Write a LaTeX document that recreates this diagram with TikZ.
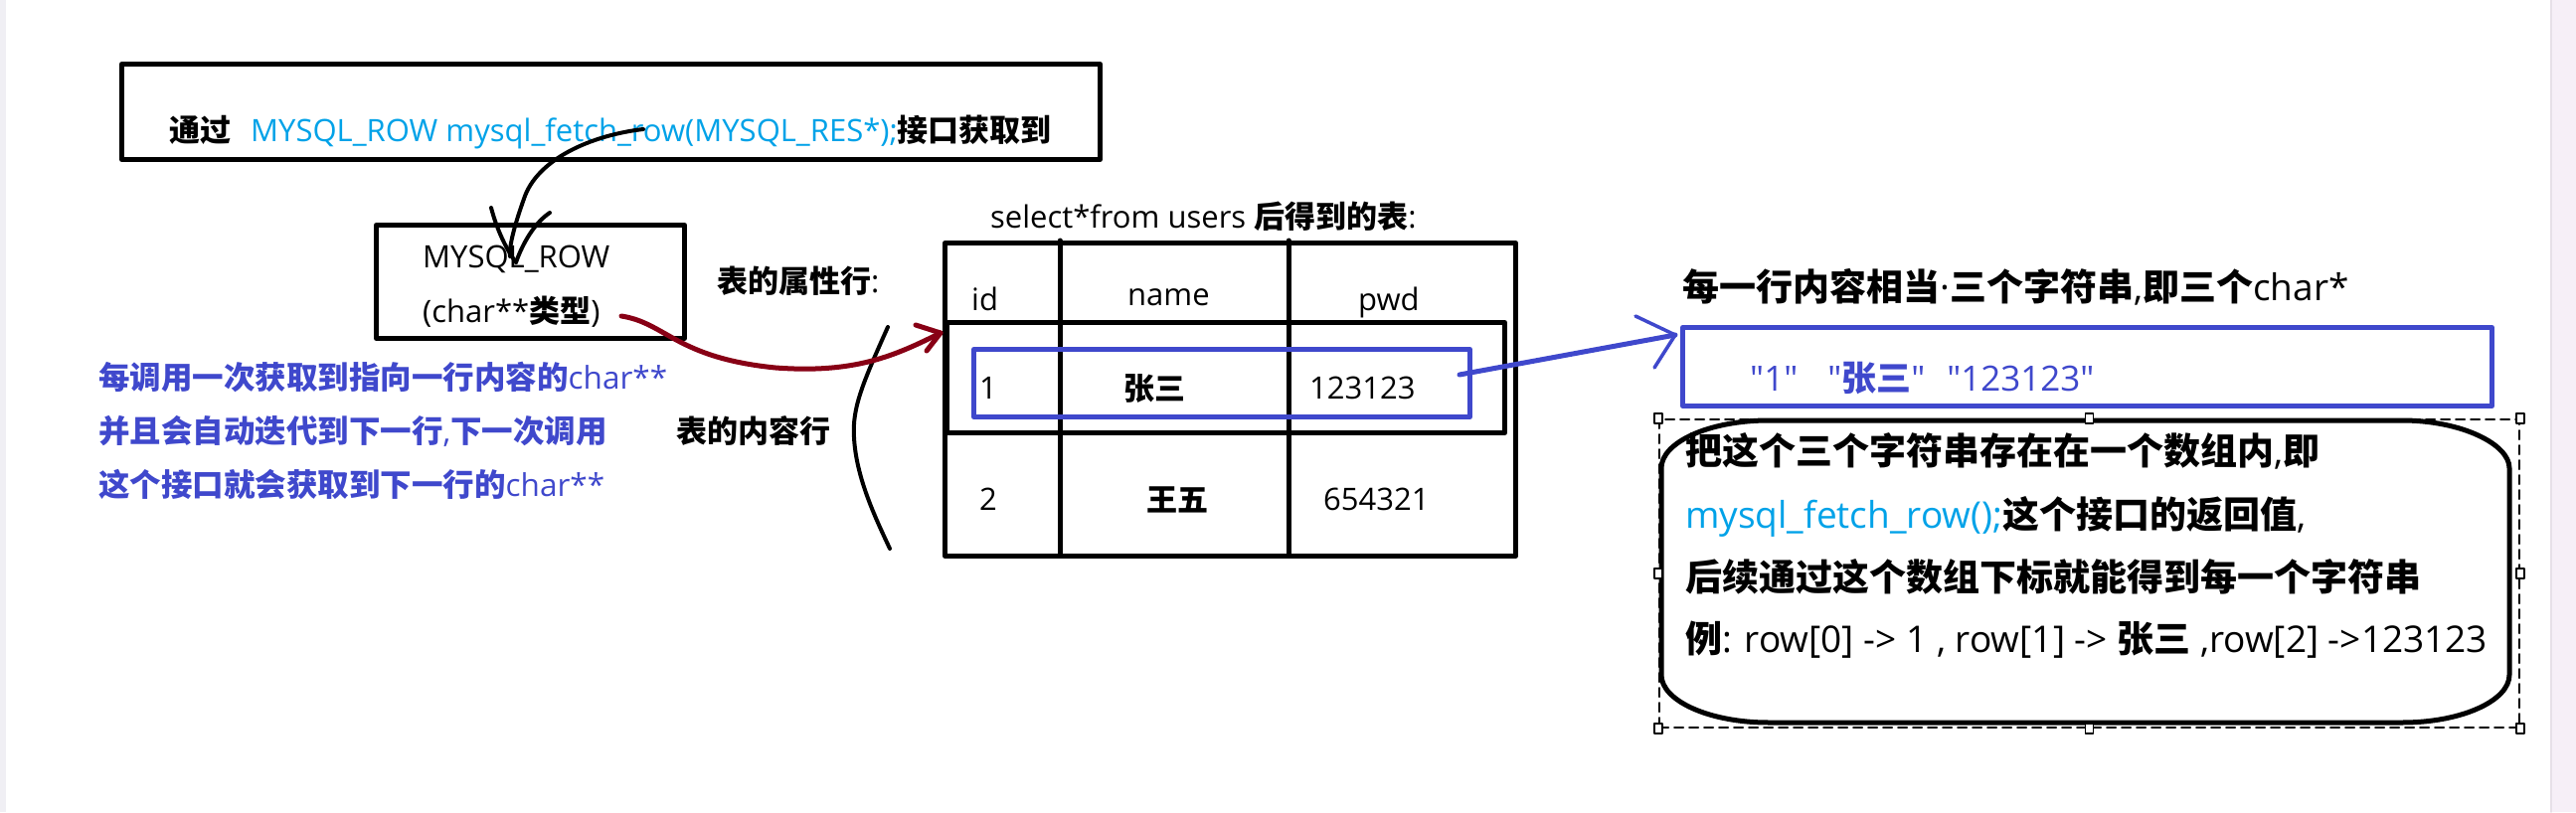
\documentclass[tikz,border=0pt]{standalone}
\usepackage{fontspec}
\setmainfont{Open Sans}
\newfontfamily\zhfont{Noto Sans CJK SC}
\newfontfamily\strfont{Open Sans}[Ligatures=TeXOff]
\newcommand\zh[1]{{\zhfont\bfseries #1}}
\definecolor{pblue}{HTML}{3F48CC}
\definecolor{pcyan}{HTML}{00A2E8}
\definecolor{pred}{HTML}{880015}
\definecolor{stripL}{HTML}{F0EFF4}
\definecolor{stripR}{HTML}{F6EFF7}
\definecolor{stripRline}{HTML}{E6E0E8}
\begin{document}
\begin{tikzpicture}[x=1pt,y=-1pt,
  line cap=round, line join=round,
  txt/.style={inner sep=0pt, anchor=base west, font=\fontsize{31}{37}\selectfont},
  note/.style={txt, text=pblue, font=\fontsize{31.5}{38}\selectfont},
  big/.style={txt, font=\fontsize{37}{44}\selectfont},
  box/.style={draw, line width=5pt, inner sep=0pt, anchor=north west},
  handle/.style={draw, fill=white, line width=1.5pt, minimum width=8pt, minimum height=10pt, inner sep=0pt},
  hand/.style={line width=4pt},
]
\useasboundingbox (0,0) rectangle (2591,817);
\fill[white] (0,0) rectangle (2591,817);
\fill[stripL] (0,0) rectangle (6,817);
\fill[stripR] (2566,0) rectangle (2591,817);
\draw[stripRline, line width=1.5pt] (2566,0) -- (2566,817);

% top box
\node[box, minimum width=984pt, minimum height=96pt] (topbox) at (120,62) {};
\node[txt] (toptxt) at (170,142) {\zh{通过}\hspace{20pt}\textcolor{pcyan}{MYSQL\_ROW mysql\_fetch\_row(MYSQL\_RES*);}\zh{接口获取到}};

% MYSQL_ROW box
\node[box, minimum width=310pt, minimum height=114pt] (rowbox) at (376,224) {};
\node[txt] (rowname) at (425,269) {MYSQL\_ROW};
\node[txt] (rowtype) at (425,324) {(char**\zh{类型})};

% black hand-drawn arrow
\coordinate (kstart) at (647,130);
\coordinate (ktip) at (519,264);
\draw[hand] (kstart) .. controls (595,136) and (540,160) .. (527,200) .. controls (517,228) and (512,248) .. (513,258);
\draw[hand] (494,209) .. controls (500,232) and (510,252) .. (ktip);
\draw[hand] (553,214) .. controls (538,224) and (526,244) .. (ktip);

% blue notes
\node[note] (note1) at (99,391) {\zh{每调用一次获取到指向一行内容的}char**};
\node[note] (note2) at (99,445) {\zh{并且会自动迭代到下一行},\zh{下一次调用}};
\node[note] (note3) at (99,499) {\zh{这个接口就会获取到下一行的}char**};

% labels
\node[txt] (attr) at (721,294) {\zh{表的属性行}:};
\node[txt] (cont) at (680,445) {\zh{表的内容行}};

% brace-like curve
\draw[hand] (893,329) .. controls (868,385) and (857,410) .. (859,440) .. controls (861,480) and (880,520) .. (895,552);

% table
\node[txt] (tcap) at (996,229) {select*from users \zh{后得到的表}:};
\node[box, minimum width=574pt, minimum height=315pt] (table) at (948,242) {};
\draw[line width=5pt] (1066,242) -- (1066,557);
\draw[line width=5pt] (1296,242) -- (1296,557);
\node[box, minimum width=561pt, minimum height=111pt] (row1) at (950,322) {};
\node[txt] (hid) at (977,312) {id};
\node[txt] (hname) at (1134,307) {name};
\node[txt] (hpwd) at (1366,312) {pwd};
\node[txt] (r1id) at (985,401) {1};
\node[txt] (r1name) at (1130,402) {\zh{张三}};
\node[txt] (r1pwd) at (1317,401) {123123};
\node[txt] (r2id) at (985,513) {2};
\node[txt] (r2name) at (1153,514) {\zh{王五}};
\node[txt] (r2pwd) at (1331,513) {654321};
\node[box, draw=pblue, minimum width=499pt, minimum height=68pt] (sel) at (977,349) {};

% red arrow
\coordinate (rstart) at (625,318);
\coordinate (rtip) at (946,335);
\draw[pred, line width=5pt] (rstart) .. controls (670,325) and (680,360) .. (780,370) .. controls (860,376) and (900,358) .. (rtip);
\draw[pred, line width=5pt] (921,327) -- (rtip) -- (932,353);

% right side
\node[big] (title) at (1692,302) {\zh{每一行内容相当}·\zh{三个字符串},\zh{即三个}char*};
\node[box, draw=pblue, minimum width=814pt, minimum height=79pt] (strbox) at (1690,327) {};
\node[txt, text=pblue, font=\fontsize{35}{42}\selectfont\strfont] (strs) at (1760,393) {"1"\hspace{30pt}"\zh{张三}"\hspace{22pt}"123123"};

% blue arrow
\coordinate (bstart) at (1468,377);
\coordinate (btip) at (1685,337);
\draw[pblue, line width=5pt] (bstart) -- (btip);
\draw[pblue, line width=3.5pt] (1645,318) -- (btip) -- (1664,370);

% dashed selection frame
\node[draw, dash pattern=on 9pt off 6pt, line width=2pt, inner sep=0pt, minimum width=865pt, minimum height=310pt, anchor=north west] (frame) at (1668,421) {};

% rounded shape
\draw[line width=5pt] (1779,423) -- (2416,423) .. controls (2476,423) and (2524,447) .. (2524,471) -- (2524,679) .. controls (2524,705) and (2476,727) .. (2416,727) -- (1779,727) .. controls (1719,727) and (1671,705) .. (1671,679) -- (1671,471) .. controls (1671,445) and (1719,423) .. (1779,423) -- cycle;

\foreach \a/\n in {north west/h1, north/h2, north east/h3, west/h4, east/h5, south west/h6, south/h7, south east/h8}
  \node[handle] (\n) at (frame.\a) {};

\node[big] (l1) at (1695,467) {\zh{把这个三个字符串存在在一个数组内},\zh{即}};
\node[big] (l2) at (1695,531) {\textcolor{pcyan}{mysql\_fetch\_row();}\zh{这个接口的返回值},};
\node[big] (l3) at (1695,594) {\zh{后续通过这个数组下标就能得到每一个字符串}};
\node[big] (l4) at (1695,656) {\zh{例}: row[0] -> 1 , row[1] -> \zh{张三} ,row[2] ->123123};
\end{tikzpicture}
\end{document}
